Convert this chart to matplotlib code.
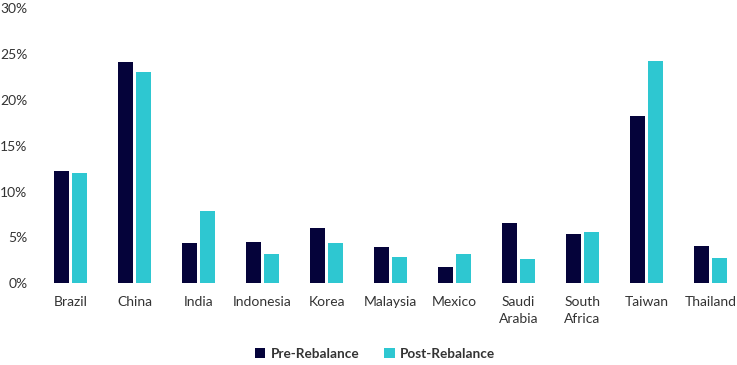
import numpy as np
import matplotlib.pyplot as plt
from matplotlib.ticker import FuncFormatter

countries = ['Brazil', 'China', 'India', 'Indonesia', 'Korea', 'Malaysia',
             'Mexico', 'Saudi\nArabia', 'South\nAfrica', 'Taiwan', 'Thailand']
pre = [12.25, 24.1, 4.4, 4.5, 6.0, 3.95, 1.8, 6.6, 5.4, 18.25, 4.05]
post = [12.0, 23.1, 7.9, 3.2, 4.4, 2.9, 3.2, 2.65, 5.6, 24.3, 2.75]

navy = '#05033a'
cyan = '#2ec7d1'
txt = '#333333'

plt.rcParams['font.family'] = ['Lato', 'DejaVu Sans']

fig = plt.figure(figsize=(7.37, 3.65), dpi=100)
ax = fig.add_axes([38.5 / 737, 81.7 / 365, 698.5 / 737, 275 / 365])

x = np.arange(len(countries))
w = 0.23
ax.bar(x - 0.145, pre, w, color=navy, label='Pre-Rebalance')
ax.bar(x + 0.145, post, w, color=cyan, label='Post-Rebalance')

ax.set_xlim(-0.5, 10.414)
ax.set_ylim(0, 30)
ax.set_yticks(np.arange(0, 31, 5))
ax.yaxis.set_major_formatter(FuncFormatter(lambda v, p: f'{v:.0f}%'))
ax.set_xticks(x)
ax.set_xticklabels(countries, linespacing=1.5)
ax.tick_params(length=0, colors=txt, labelsize=10)
ax.tick_params(axis='y', pad=8)
ax.tick_params(axis='x', pad=9)
for s in ax.spines.values():
    s.set_visible(False)

leg = fig.legend(loc='center', bbox_to_anchor=(375 / 737, 1 - 354 / 365), ncol=2,
                 frameon=False, handlelength=0.8, handleheight=0.8,
                 handletextpad=0.4, columnspacing=1.8,
                 prop={'weight': 'bold', 'size': 9.8})
for t in leg.get_texts():
    t.set_color(txt)

fig.savefig('out.png', dpi=100)
